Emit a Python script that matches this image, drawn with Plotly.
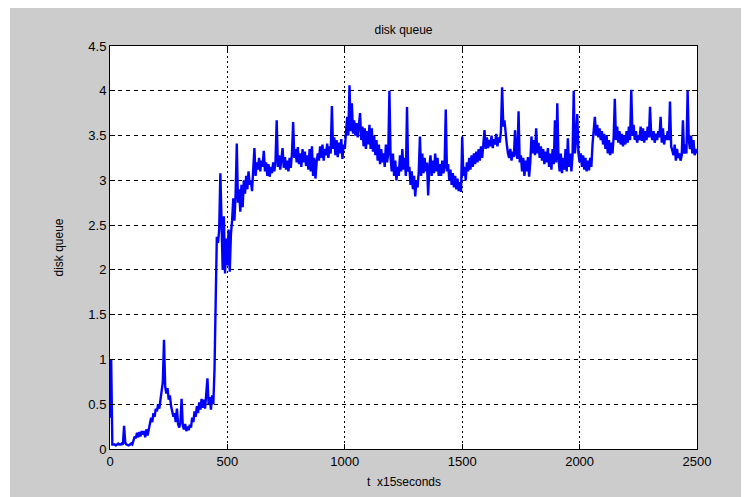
import plotly.graph_objects as go

# disk queue values sampled every 5 time units (t x15 seconds)
seg_0000 = [0.35,1.00,0.05,0.05,0.05,0.04,0.05,0.06,0.05,0.05,0.06,0.05,0.26,0.07,0.05,0.04,0.04,0.05,0.06,0.05]
seg_0100 = [0.10,0.14,0.12,0.18,0.13,0.19,0.14,0.20,0.16,0.20,0.13,0.22,0.15,0.21,0.28,0.35,0.30,0.40,0.36,0.45]
seg_0200 = [0.42,0.50,0.45,0.55,0.60,0.75,1.22,0.70,0.62,0.68,0.55,0.60,0.48,0.42,0.36,0.40,0.30,0.45,0.28,0.24]
seg_0300 = [0.30,0.56,0.26,0.22,0.28,0.20,0.25,0.21,0.27,0.24,0.35,0.30,0.42,0.36,0.48,0.40,0.52,0.44,0.56,0.46]
seg_0400 = [0.55,0.45,0.60,0.79,0.50,0.58,0.44,0.60,0.50,0.88,1.63,2.37,2.30,2.45,3.08,2.40,2.00,2.60,1.96,2.35]
seg_0500 = [2.05,2.45,1.98,2.40,2.55,2.80,2.55,2.85,3.41,2.75,2.90,2.65,2.95,2.70,3.00,2.85,3.05,2.90,3.10,2.95]
seg_0600 = [3.00,2.88,3.10,3.36,3.05,3.20,3.12,3.25,3.10,3.22,3.15,3.33,3.10,3.20,3.05,3.18,3.04,3.15,3.08,3.20]
seg_0700 = [3.10,3.22,3.67,3.15,3.28,3.12,3.24,3.36,3.14,3.26,3.12,3.22,3.10,3.25,3.14,3.30,3.65,3.25,3.35,3.20]
seg_0800 = [3.37,3.18,3.30,3.15,3.35,3.20,3.32,3.16,3.28,3.12,3.35,3.10,3.38,3.05,3.25,3.02,3.20,3.30,3.22,3.38]
seg_0900 = [3.25,3.40,3.22,3.35,3.28,3.41,3.25,3.38,3.30,3.83,3.35,3.48,3.28,3.45,3.26,3.42,3.30,3.46,3.24,3.40]
seg_1000 = [3.35,3.55,3.71,3.50,4.06,3.55,3.86,3.52,3.67,3.50,3.64,3.48,3.62,3.75,3.45,3.60,3.38,3.58,3.35,3.55]
seg_1100 = [3.40,3.62,3.35,3.58,3.32,3.50,3.28,3.45,3.22,3.40,3.18,3.35,3.20,3.30,3.15,3.40,3.20,3.30,4.00,3.25]
seg_1200 = [3.10,3.30,3.05,3.22,3.00,3.15,3.05,3.28,3.10,3.35,3.12,3.25,3.05,3.82,3.10,3.15,2.95,3.10,2.90,3.05]
seg_1300 = [2.82,3.00,2.92,3.10,3.49,3.05,3.30,3.08,3.25,3.10,3.20,2.83,3.15,3.28,3.05,3.22,3.08,3.30,3.10,3.25]
seg_1400 = [3.05,3.18,3.05,3.22,3.08,3.15,3.79,3.10,3.18,3.00,3.12,2.95,3.08,2.92,3.05,2.90,3.02,2.88,2.98,2.87]
seg_1500 = [3.49,3.05,3.15,3.00,3.20,3.10,3.25,3.12,3.28,3.15,3.30,3.18,3.32,3.20,3.35,3.22,3.38,3.25,3.40,3.56]
seg_1600 = [3.35,3.48,3.36,3.45,3.38,3.50,3.36,3.46,3.40,3.52,3.38,3.48,3.42,3.55,4.04,3.60,3.67,3.50,3.40,3.30]
seg_1700 = [3.25,3.35,3.22,3.32,3.26,3.56,3.30,3.24,3.77,3.20,3.28,3.10,3.25,3.05,3.22,3.10,3.26,3.04,3.20,3.49]
seg_1800 = [3.30,3.45,3.28,3.58,3.30,3.42,3.25,3.38,3.22,3.35,3.18,3.32,3.20,3.36,3.15,3.30,3.12,3.35,3.18,3.67]
seg_1900 = [3.20,3.86,3.25,3.10,3.30,3.08,3.25,3.12,3.35,3.10,3.47,3.15,3.30,3.10,3.28,4.00,3.30,3.45,3.74,3.30]
seg_2000 = [3.20,3.30,3.15,3.28,3.12,3.25,3.10,3.22,3.11,3.25,3.15,3.40,3.55,3.71,3.50,3.62,3.48,3.58,3.45,3.55]
seg_2100 = [3.40,3.52,3.35,3.50,3.30,3.45,3.28,3.42,3.30,3.48,3.91,3.45,3.60,3.42,3.55,3.40,3.52,3.38,3.50,3.40]
seg_2200 = [3.55,3.42,3.60,3.45,4.01,3.50,3.62,3.45,3.55,3.42,3.50,3.45,3.60,3.44,3.58,3.42,3.55,3.45,3.60,3.48]
seg_2300 = [3.82,3.50,3.45,3.55,3.42,3.52,3.45,3.55,3.48,3.71,3.42,3.58,3.40,3.50,3.45,3.55,3.45,3.88,3.38,3.32]
seg_2400 = [3.28,3.40,3.22,3.35,3.25,3.30,3.22,3.28,3.67,3.30,3.40,3.30,4.00,3.45,3.35,3.50,3.30,3.45,3.28,3.35,3.30]

segments = [seg_0000, seg_0100, seg_0200, seg_0300, seg_0400, seg_0500, seg_0600, seg_0700,
            seg_0800, seg_0900, seg_1000, seg_1100, seg_1200, seg_1300, seg_1400, seg_1500,
            seg_1600, seg_1700, seg_1800, seg_1900, seg_2000, seg_2100, seg_2200, seg_2300, seg_2400]
queue = [v for s in segments for v in s]
t_step = 5
t = [i * t_step for i in range(len(queue))]

x_ticks = [0, 500, 1000, 1500, 2000, 2500]
y_ticks = [0, 0.5, 1, 1.5, 2, 2.5, 3, 3.5, 4, 4.5]
y_ticktext = ["0", "0.5", "1", "1.5", "2", "2.5", "3", "3.5", "4", "4.5"]

# the page places the figure at an 8px body offset
OFF = 8
W, H = 749 - OFF, 497 - OFF
L, R, T, B = 110 - OFF, 697 - OFF, 46 - OFF, 449 - OFF

fig = go.Figure(go.Scatter(x=t, y=queue, mode="lines",
                           line=dict(color="#0000ff", width=2.4), showlegend=False))

font = dict(family="Liberation Sans, Arial, sans-serif", size=13, color="#000000")
axis_common = dict(showline=True, linecolor="#000000", linewidth=1, mirror="ticks",
                   ticks="inside", ticklen=5, tickcolor="#000000",
                   showgrid=True, gridcolor="#000000", gridwidth=1,
                   zeroline=False, tickfont=font)

fig.update_xaxes(range=[0, 2500], tickvals=x_ticks, griddash="2px,3px", **axis_common)
fig.update_yaxes(range=[0, 4.5], tickvals=y_ticks, ticktext=y_ticktext,
                 griddash="4px,4px", **axis_common)

pw, ph = R - L, B - T
def px_x(p):
    return (p - OFF - L) / pw
def px_y(p):
    return (B - (p - OFF)) / ph

fig.update_layout(
    width=W, height=H, autosize=False,
    margin=dict(l=L, r=W - R, t=T, b=H - B, pad=0),
    paper_bgcolor="#cccccc", plot_bgcolor="#ffffff",
    title=dict(text="disk queue", x=0.5, xref="paper", xanchor="center",
               y=1 - (30 - OFF) / H, yref="container", yanchor="middle",
               font=dict(family="Liberation Sans, Arial, sans-serif", size=12, color="#000000")),
    annotations=[
        dict(text="t  x15seconds", xref="paper", yref="paper", x=0.5, y=px_y(482),
             xanchor="center", yanchor="middle", showarrow=False,
             font=dict(family="Liberation Sans, Arial, sans-serif", size=12, color="#000000")),
        dict(text="disk queue", xref="paper", yref="paper", x=px_x(58), y=0.5,
             xanchor="center", yanchor="middle", showarrow=False, textangle=-90,
             font=dict(family="Liberation Sans, Arial, sans-serif", size=12, color="#000000")),
    ],
    shapes=[
        dict(type="rect", xref="paper", yref="paper", x0=px_x(-5), x1=px_x(10),
             y0=px_y(H + 20), y1=px_y(-5), fillcolor="#ffffff", line=dict(width=0), layer="above"),
    ],
)

fig.write_html("out.html")
